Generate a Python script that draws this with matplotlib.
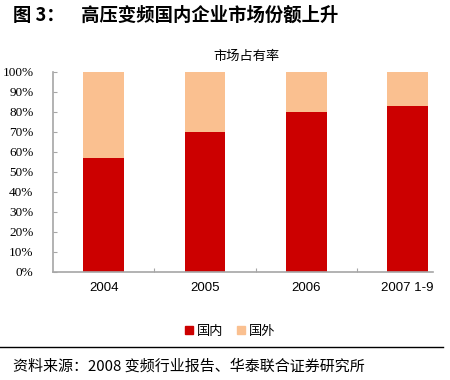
import matplotlib.pyplot as plt
from matplotlib.patches import Patch

plt.rcParams['font.family'] = ['Noto Sans CJK SC', 'DejaVu Sans']

# --- data ---
years = ['2004', '2005', '2006', '2007 1-9']
domestic = [57, 70, 80, 83]
foreign = [43, 30, 20, 17]
yticks = [0, 10, 20, 30, 40, 50, 60, 70, 80, 90, 100]

red = '#CC0000'
peach = '#FAC090'
grey = '#A6A6A6'

fig = plt.figure(figsize=(4.5, 3.8), dpi=100)
ax = fig.add_axes([53 / 450, 108 / 380, 380 / 450, 200 / 380])

x = range(len(years))
ax.bar(x, domestic, width=0.4, color=red, label='国内')
ax.bar(x, foreign, width=0.4, bottom=domestic, color=peach, label='国外')

ax.set_xlim(-0.5, 3.25)
ax.set_ylim(0, 100)
ax.set_yticks(yticks)
ax.set_yticklabels([f'{v}%' for v in yticks], family='Liberation Serif', fontsize=9.5)
ax.set_xticks([0.5, 1.5, 2.5])
ax.set_xticklabels([])
ax.tick_params(axis='x', direction='in', length=3, color=grey)
ax.tick_params(axis='y', direction='in', length=3, color=grey, pad=14)
for i, y in enumerate(years):
    ax.text(i, -8, y, ha='center', va='center', fontsize=9.5, family='Liberation Sans')

for s in ['top', 'right']:
    ax.spines[s].set_visible(False)
for s in ['left', 'bottom']:
    ax.spines[s].set_color(grey)
    ax.spines[s].set_linewidth(1.2)

fig.text(247 / 450, 1 - 56 / 380, '市场占有率', ha='center', va='center', fontsize=9.5)

fig.text(13 / 450, 1 - 15 / 380, '图 3：    高压变频国内企业市场份额上升', ha='left', va='center',
         fontsize=13.2, fontweight='bold')

handles = [Patch(color=red, label='国内'), Patch(color=peach, label='国外')]
fig.legend(handles=handles, loc='center', bbox_to_anchor=(230 / 450, 1 - 331 / 380), ncol=2,
           frameon=False, fontsize=9.5, handlelength=0.6, handleheight=0.6, handletextpad=0.3,
           columnspacing=1.0)

fig.add_artist(plt.Line2D([0, 443 / 450], [1 - 347 / 380, 1 - 347 / 380], color='black', lw=1))
fig.text(13 / 450, 1 - 366 / 380, '资料来源：2008 变频行业报告、华泰联合证券研究所', ha='left', va='center',
         fontsize=10.8, style='italic')

fig.savefig('out.png', dpi=100)
